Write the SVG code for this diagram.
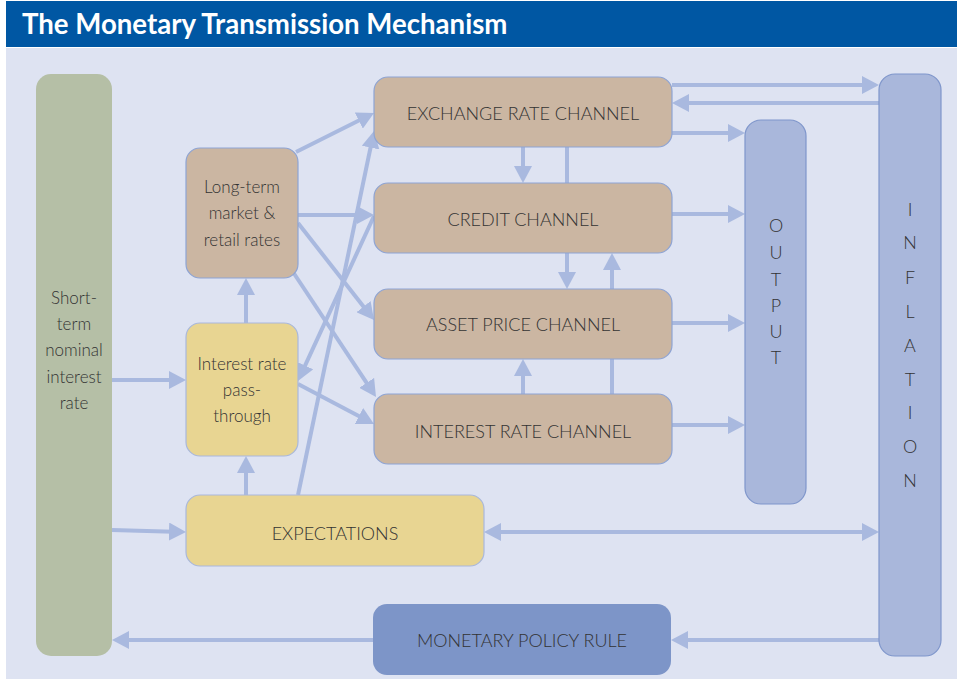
<svg xmlns="http://www.w3.org/2000/svg" width="957" height="679" viewBox="0 0 957 679">
<defs>
<marker id="ah" markerUnits="userSpaceOnUse" markerWidth="17" markerHeight="18" refX="4" refY="9" orient="auto-start-reverse" viewBox="0 0 17 18">
<path d="M0,0 L17,9 L0,18 z" fill="#A9B9DF"/>
</marker>
<style>
.t{font-family:Lato,"Open Sans","Liberation Sans",sans-serif;font-weight:300;fill:#333333;text-anchor:middle;font-size:17px}
.ch{font-size:18px}
.tan{fill:#CBB6A2;stroke:#8EA4D4;stroke-width:1.2}
.yel{fill:#E8D592;stroke:#A9B8DC;stroke-width:1.2}
.blu{fill:#A9B7DB;stroke:#7F96CB;stroke-width:1.2}
#connectors line{stroke:#A9B9DF;stroke-width:4;fill:none}
#connectors line.a{marker-end:url(#ah)}
#connectors line.aa{marker-end:url(#ah);marker-start:url(#ah)}
</style>
</defs>
<rect x="6" y="48" width="951" height="631" fill="#DEE3F2"/>
<rect x="6" y="1" width="951" height="46" fill="#0057A3"/>
<text x="22" y="34" font-family="Lato,'Open Sans','Liberation Sans',sans-serif" font-weight="bold" font-size="27.6" fill="#ffffff">The Monetary Transmission Mechanism</text>

<g id="connectors">
<line class="a" x1="112" y1="380" x2="173" y2="380"/>
<line class="a" x1="112" y1="530" x2="173" y2="531.65"/>
<line class="a" x1="373" y1="640" x2="125" y2="640"/>
<line class="a" x1="879" y1="640" x2="684" y2="640"/>
<line class="aa" x1="497" y1="532" x2="866" y2="532"/>
<line class="a" x1="246" y1="323" x2="246" y2="291"/>
<line class="a" x1="246" y1="495" x2="246" y2="469"/>
<line class="a" x1="298" y1="495" x2="371.34" y2="143.73"/>
<line class="a" x1="296" y1="152" x2="362.37" y2="118.81"/>
<line class="a" x1="298" y1="215" x2="361" y2="215"/>
<line class="a" x1="298" y1="223" x2="365.98" y2="309.77"/>
<line class="a" x1="293" y1="272" x2="368.81" y2="386.17"/>
<line class="a" x1="374" y1="216" x2="303.44" y2="369.19"/>
<line class="a" x1="298" y1="384" x2="362.5" y2="417.94"/>
<line class="a" x1="523" y1="147" x2="523" y2="170"/>
<line x1="567" y1="147" x2="567" y2="183"/>
<line class="a" x1="567" y1="253" x2="567" y2="276"/>
<line class="a" x1="612" y1="289" x2="612" y2="266"/>
<line x1="612" y1="359" x2="612" y2="394"/>
<line class="a" x1="523" y1="394" x2="523" y2="372"/>
<line class="a" x1="672" y1="85" x2="866" y2="85"/>
<line class="a" x1="879" y1="103" x2="685" y2="103"/>
<line class="a" x1="672" y1="133" x2="732" y2="133"/>
<line class="a" x1="672" y1="214" x2="732" y2="214"/>
<line class="a" x1="672" y1="323" x2="732" y2="323"/>
<line class="a" x1="672" y1="425" x2="732" y2="425"/>
</g>

<g id="short-term-rate">
<rect x="36" y="74" width="76" height="582" rx="15" fill="#B5BFA6"/>
<text class="t"><tspan x="74" y="304">Short-</tspan><tspan x="74" y="330">term</tspan><tspan x="74" y="356">nominal</tspan><tspan x="74" y="383">interest</tspan><tspan x="74" y="409">rate</tspan></text>
</g>
<g id="long-term-rates">
<rect class="tan" x="186" y="148" width="112" height="130" rx="14"/>
<text class="t"><tspan x="242" y="193">Long-term</tspan><tspan x="242" y="219">market &amp;</tspan><tspan x="242" y="246">retail rates</tspan></text>
</g>
<g id="pass-through">
<rect class="yel" x="186" y="323" width="112" height="133" rx="14"/>
<text class="t"><tspan x="242" y="370">Interest rate</tspan><tspan x="242" y="396">pass-</tspan><tspan x="242" y="422">through</tspan></text>
</g>
<g id="expectations">
<rect class="yel" x="186" y="495" width="298" height="71" rx="14"/>
<text class="t ch" x="335" y="540">EXPECTATIONS</text>
</g>
<g id="exchange-rate-channel">
<rect class="tan" x="374" y="77" width="298" height="70" rx="14"/>
<text class="t ch" x="523" y="120">EXCHANGE RATE CHANNEL</text>
</g>
<g id="credit-channel">
<rect class="tan" x="374" y="183" width="298" height="70" rx="14"/>
<text class="t ch" x="523" y="226">CREDIT CHANNEL</text>
</g>
<g id="asset-price-channel">
<rect class="tan" x="374" y="289" width="298" height="70" rx="14"/>
<text class="t ch" x="523" y="331">ASSET PRICE CHANNEL</text>
</g>
<g id="interest-rate-channel">
<rect class="tan" x="374" y="394" width="298" height="70" rx="14"/>
<text class="t ch" x="523" y="438">INTEREST RATE CHANNEL</text>
</g>
<g id="output">
<rect class="blu" x="745" y="120" width="61" height="384" rx="16"/>
<text class="t ch"><tspan x="776" y="232">O</tspan><tspan x="776" y="259">U</tspan><tspan x="776" y="286">T</tspan><tspan x="776" y="312">P</tspan><tspan x="776" y="338">U</tspan><tspan x="776" y="364">T</tspan></text>
</g>
<g id="inflation">
<rect class="blu" x="879" y="74" width="62" height="582" rx="16"/>
<text class="t ch"><tspan x="910" y="216">I</tspan><tspan x="910" y="249">N</tspan><tspan x="910" y="284">F</tspan><tspan x="910" y="318">L</tspan><tspan x="910" y="352">A</tspan><tspan x="910" y="386">T</tspan><tspan x="910" y="419">I</tspan><tspan x="910" y="453">O</tspan><tspan x="910" y="487">N</tspan></text>
</g>
<g id="monetary-policy-rule">
<rect x="373" y="604" width="298" height="71" rx="14" fill="#7D95C8"/>
<text class="t ch" x="522" y="647">MONETARY POLICY RULE</text>
</g>
</svg>
